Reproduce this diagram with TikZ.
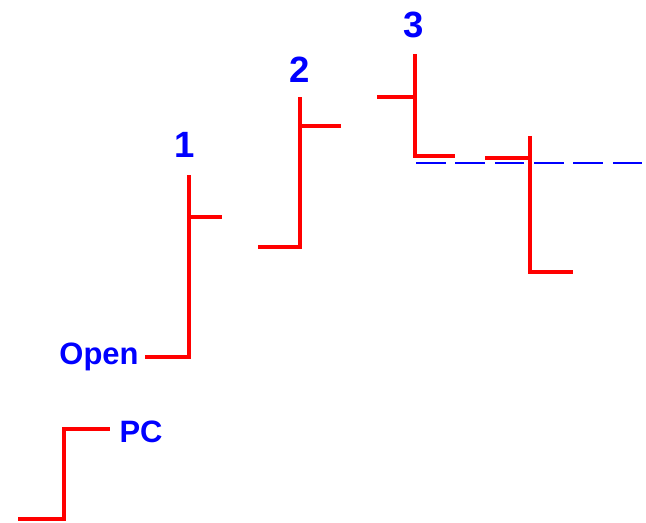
\documentclass[tikz,border=0pt]{standalone}
\usepackage{fontspec}
\setmainfont{Liberation Sans}
\usepackage{tikz}
\usetikzlibrary{positioning, calc}
\tikzstyle{bar} = [draw=red, line width=2.8pt, line cap=butt, line join=miter]
\tikzstyle{level} = [draw=blue, line width=1.3pt, dash pattern=on 21pt off 7pt]
\tikzstyle{num} = [text=blue, inner sep=0pt, anchor=base, font=\bfseries\fontsize{26}{30}\selectfont]
\tikzstyle{word} = [text=blue, inner sep=0pt, anchor=base, font=\bfseries\fontsize{22}{26}\selectfont]

\begin{document}
\begin{tikzpicture}[x=0.025cm, y=-0.025cm]
    \useasboundingbox (0,0) rectangle (646,523);
    %标签
    \node (n1) [num] at (185,158) {1};
    \node (n2) [num] at (300,83) {2};
    \node (n3) [num] at (414,38) {3};
    \node (open) [word] at (99,365) {Open};
    \node (pc) [word] at (141,443) {PC};

    %柱线
    \draw [bar] (145,357) -- (189,357) -- (189,175);
    \draw [bar] (189,217) -- (222,217);
    \draw [bar] (258,247) -- (300,247) -- (300,97);
    \draw [bar] (300,126) -- (341,126);
    \draw [bar] (377,97) -- (415,97);
    \draw [bar] (415,54) -- (415,156) -- (455,156);
    \draw [bar] (485,158) -- (530,158);
    \draw [bar] (530,136) -- (530,272) -- (573,272);
    \draw [bar] (18,519) -- (64,519) -- (64,429) -- (110,429);

    %水平虚线
    \draw [level] (416,163) -- (646,163);
\end{tikzpicture}
\end{document}
